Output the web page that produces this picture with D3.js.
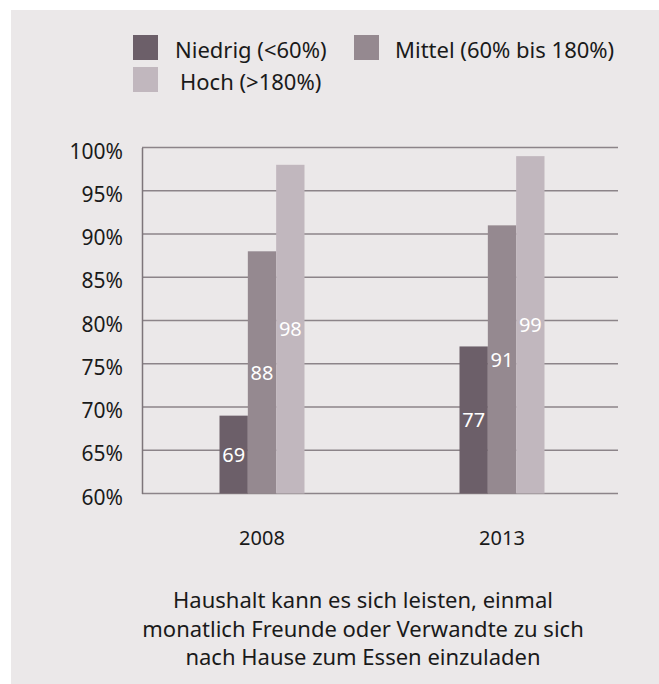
<!DOCTYPE html>
<html>
<head>
<meta charset="utf-8">
<script src="https://cdn.jsdelivr.net/npm/d3@7"></script>
<style>
  html, body { margin: 0; padding: 0; background: #ffffff; }
  svg { display: block; }
  text { font-family: "Noto Sans", "Open Sans", sans-serif; }
</style>
</head>
<body>
<div id="chart"></div>
<script>
// Einkommensgruppen und Anteile der Haushalte (in %)
const years = ["2008", "2013"];
const groups = ["Niedrig (<60%)", "Mittel (60% bis 180%)", "Hoch (>180%)"];
const niedrig = [69, 77];
const mittel = [88, 91];
const hoch = [98, 99];
const yTicks = [60, 65, 70, 75, 80, 85, 90, 95, 100];
const captionLines = [
  "Haushalt kann es sich leisten, einmal",
  "monatlich Freunde oder Verwandte zu sich",
  "nach Hause zum Essen einzuladen"
];
const colors = ["#6c5f69", "#958990", "#c1b7be"];

const W = 659, H = 684;
const svg = d3.select("#chart").append("svg").attr("width", W).attr("height", H);

// Hintergrundfläche
svg.append("rect").attr("x", 11).attr("y", 10).attr("width", W - 11).attr("height", H - 10)
  .attr("fill", "#ebe8e9");

const plot = { left: 142, right: 618, top: 147.5, bottom: 493.5 };

const y = d3.scaleLinear().domain([60, 100]).range([plot.bottom, plot.top]);
const x0 = d3.scaleBand().domain(years).range([plot.left, 622]).paddingInner(0).paddingOuter(0);
const x1 = d3.scaleBand().domain(d3.range(groups.length)).range([0, 85]);
const groupOffset = -42.5;

// Gitterlinien
svg.append("g")
  .selectAll("line").data(yTicks).join("line")
  .attr("x1", plot.left).attr("x2", plot.right)
  .attr("y1", d => y(d)).attr("y2", d => y(d))
  .attr("stroke", "#8c8489").attr("stroke-width", 1.3);

// y-Achse
const yAxis = d3.axisLeft(y).tickValues(yTicks).tickSize(0).tickPadding(19)
  .tickFormat(d => d + "%");
const gy = svg.append("g").attr("transform", `translate(${plot.left},0)`).call(yAxis);
gy.select(".domain").attr("stroke", "#7d757a").attr("stroke-width", 1.5);
gy.selectAll("text").attr("font-size", 21).attr("fill", "#1a1a1a").attr("dy", "0.5em")
  .attr("font-family", "'Noto Sans', sans-serif");

// Balken
const series = [niedrig, mittel, hoch];
const rows = [];
years.forEach((yr, i) => {
  series.forEach((s, j) => rows.push({ year: yr, g: j, v: s[i] }));
});

const bars = svg.append("g");
bars.selectAll("rect").data(rows).join("rect")
  .attr("x", d => x0(d.year) + x0.bandwidth() / 2 + groupOffset + x1(d.g))
  .attr("width", x1.bandwidth())
  .attr("y", d => y(d.v))
  .attr("height", d => y(60) - y(d.v))
  .attr("fill", d => colors[d.g]);

bars.selectAll("text").data(rows).join("text")
  .attr("x", d => x0(d.year) + x0.bandwidth() / 2 + groupOffset + x1(d.g) + x1.bandwidth() / 2)
  .attr("y", d => (y(d.v) + y(60)) / 2)
  .attr("dy", "0.36em")
  .attr("text-anchor", "middle")
  .attr("font-size", 20)
  .attr("fill", "#ffffff")
  .text(d => d.v);

// x-Achse (Jahre)
svg.append("g").selectAll("text").data(years).join("text")
  .attr("x", d => x0(d) + x0.bandwidth() / 2)
  .attr("y", 545)
  .attr("text-anchor", "middle")
  .attr("font-size", 20)
  .attr("fill", "#1a1a1a")
  .text(d => d);

// Legende
const legendItems = [
  { sq: [133, 35], tx: [175, 58] },
  { sq: [354, 35], tx: [395, 58] },
  { sq: [133, 67], tx: [180, 90] }
];
const lg = svg.append("g");
legendItems.forEach((it, i) => {
  lg.append("rect").attr("x", it.sq[0]).attr("y", it.sq[1]).attr("width", 25).attr("height", 25)
    .attr("fill", colors[i]);
  lg.append("text").attr("x", it.tx[0]).attr("y", it.tx[1])
    .attr("font-size", 22).attr("fill", "#1a1a1a").text(groups[i]);
});

// Beschriftung unter dem Diagramm
svg.append("g").selectAll("text").data(captionLines).join("text")
  .attr("x", 363)
  .attr("y", (d, i) => 608 + i * 28.5)
  .attr("text-anchor", "middle")
  .attr("font-size", 22)
  .attr("fill", "#1a1a1a")
  .text(d => d);
</script>
</body>
</html>
